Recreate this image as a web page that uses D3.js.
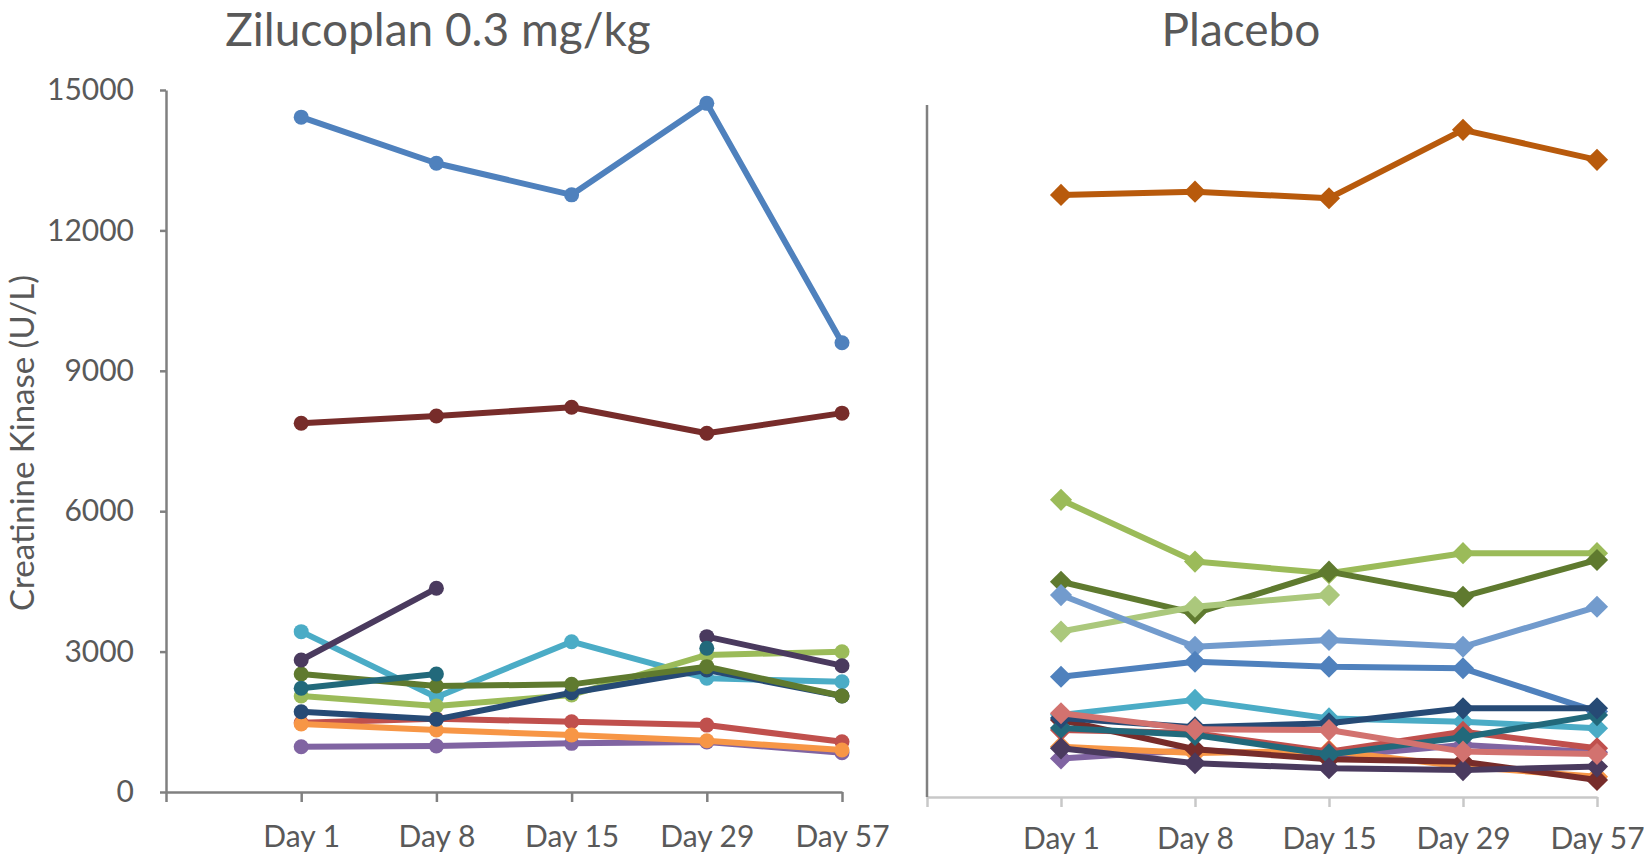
<!DOCTYPE html>
<html><head><meta charset="utf-8">
<script src="https://cdn.jsdelivr.net/npm/d3@7"></script>
<style>
html,body{margin:0;padding:0;background:#fff;}
svg{display:block;}
text{font-family:Lato, "Open Sans", sans-serif;fill:#595959;}
</style></head>
<body>
<svg id="chart" width="1644" height="854"></svg>
<script>
// ---------- data ----------
const days = ["Day 1", "Day 8", "Day 15", "Day 29", "Day 57"];
const yTicks = [0, 3000, 6000, 9000, 12000, 15000];
const panelTitles = ["Zilucoplan 0.3 mg/kg", "Placebo"];
const yAxisTitle = "Creatinine Kinase (U/L)";

// Zilucoplan 0.3 mg/kg (circle markers), drawn in this order
const ziluNames  = ["blue", "darkRed", "purple", "red", "orange", "cyan", "lightGreen", "navy", "olive", "darkPurple", "teal"];
const ziluColors = ["#4f81bd", "#772c2a", "#8064a2", "#c0504d", "#f79646", "#4bacc6", "#9bbb59", "#264a75", "#5f7a2f", "#4a3a5e", "#22697b"];
const ziluValues = [
  [14420, 13435, 12760, 14715, 9600],
  [7880, 8035, 8220, 7665, 8095],
  [968, 983, 1040, 1070, 840],
  [1480, 1565, 1500, 1430, 1075],
  [1453, 1325, 1218, 1096, 897],
  [3426, 2024, 3212, 2430, 2357],
  [2052, 1838, 2073, 2928, 2998],
  [1716, 1553, 2122, 2607, 2052],
  [2522, 2265, 2300, 2678, 2052],
  [2821, 4353, null, 3319, 2699],
  [2216, 2522, null, 3071, null]
];

// Placebo (diamond markers), drawn in this order
const placNames  = ["orangeBrown", "lightGreen", "olive", "paleGreen", "lightBlue", "blue", "cyan", "purple", "orange", "red", "darkRed", "teal", "navy", "darkPurple", "salmon"];
const placColors = ["#b85a0c", "#9bbb59", "#5f7a2f", "#abc87c", "#729bcd", "#4f81bd", "#4bacc6", "#8064a2", "#f79646", "#c0504d", "#772c2a", "#22697b", "#264a75", "#4a3a5e", "#d2726f"];
const placValues = [
  [12865, 12935, 12795, 14255, 13615],
  [6350, 5030, 4780, 5210, 5210],
  [4600, 3925, 4815, 4280, 5065],
  [3535, 4065, 4315, null, null],
  [4315, 3210, 3355, 3210, 4065],
  [2570, 2890, 2785, 2750, 1825],
  [1755, 2075, 1680, 1610, 1470],
  [825, 1005, 860, 1110, 955],
  [1075, 940, 990, 650, 435],
  [1430, 1365, 970, 1395, 1040],
  [1645, 1020, 805, 755, 365],
  [1475, 1325, 910, 1275, 1750],
  [1690, 1490, 1575, 1895, 1895],
  [1040, 720, 615, 575, 650],
  [1790, 1445, 1430, 970, 920]
];

// ---------- drawing ----------
const svg = d3.select("#chart");
svg.append("rect").attr("width", 1644).attr("height", 854).attr("fill", "#fff");

const cats = ["", ...days];

function panel(opts) {
  const g = svg.append("g");
  const x = d3.scalePoint().domain(cats).range(opts.xRange);
  const y = d3.scaleLinear().domain([0, 15000]).range(opts.yRange);

  // x axis
  const xa = g.append("g").attr("transform", `translate(0,${opts.yRange[0]})`)
    .call(d3.axisBottom(x).tickSize(10).tickSizeOuter(0).tickPadding(opts.xPad).tickFormat(d => d));
  xa.select(".domain").attr("stroke", opts.xAxisColor).attr("stroke-width", 2.5);
  xa.selectAll(".tick line").attr("stroke", opts.xAxisColor).attr("stroke-width", 2.5);
  xa.selectAll(".tick text").attr("font-size", 30).attr("fill", "#595959")
    .style("font-family", "Lato, sans-serif");

  // y axis
  if (opts.showYLabels) {
    const ya = g.append("g").attr("transform", `translate(${opts.xRange[0]},0)`)
      .call(d3.axisLeft(y).tickValues(yTicks).tickSize(6).tickSizeOuter(0).tickPadding(26).tickFormat(d3.format("d")));
    ya.select(".domain").attr("stroke", "#808080").attr("stroke-width", 2.5);
    ya.selectAll(".tick line").attr("stroke", "#808080").attr("stroke-width", 2.5);
    ya.selectAll(".tick text").attr("font-size", 30).attr("fill", "#595959")
      .style("font-family", "Lato, sans-serif");
  } else {
    g.append("line")
      .attr("x1", opts.xRange[0]).attr("x2", opts.xRange[0])
      .attr("y1", opts.yRange[0]).attr("y2", opts.yAxisTop)
      .attr("stroke", "#808080").attr("stroke-width", 2.5);
  }

  // title
  g.append("text").attr("x", opts.titleX).attr("y", 46)
    .attr("text-anchor", "middle").attr("font-size", 46).text(opts.title);

  const line = d3.line().defined(d => d != null)
    .x((d, i) => x(days[i])).y(d => y(d));

  opts.values.forEach((vals, si) => {
    const col = opts.colors[si];
    const sg = g.append("g");
    sg.append("path").datum(vals).attr("d", line)
      .attr("fill", "none").attr("stroke", col).attr("stroke-width", 6)
      .attr("stroke-linejoin", "round").attr("stroke-linecap", "round");
    const pts = vals.map((v, i) => ({v, i})).filter(p => p.v != null);
    if (opts.marker === "circle") {
      sg.selectAll("circle").data(pts).join("circle")
        .attr("cx", p => x(days[p.i])).attr("cy", p => y(p.v))
        .attr("r", 7.5).attr("fill", col);
    } else {
      const sym = d3.symbol().type(d3.symbolSquare).size(245)();
      sg.selectAll("path.m").data(pts).join("path").attr("class", "m")
        .attr("d", sym)
        .attr("transform", p => `translate(${x(days[p.i])},${y(p.v)}) rotate(45)`)
        .attr("fill", col);
    }
  });
}

panel({
  xRange: [166, 842], yRange: [792, 90], xAxisColor: "#808080", xPad: 24,
  showYLabels: true, title: panelTitles[0], titleX: 438,
  values: ziluValues, colors: ziluColors, marker: "circle"
});
panel({
  xRange: [927, 1597], yRange: [797, 95], xAxisColor: "#c8c8c8", xPad: 21,
  showYLabels: false, yAxisTop: 105, title: panelTitles[1], titleX: 1241,
  values: placValues, colors: placColors, marker: "diamond"
});

// y axis title
svg.append("text")
  .attr("transform", "translate(34,443) rotate(-90)")
  .attr("text-anchor", "middle").attr("font-size", 33)
  .text(yAxisTitle);
</script>
</body></html>
